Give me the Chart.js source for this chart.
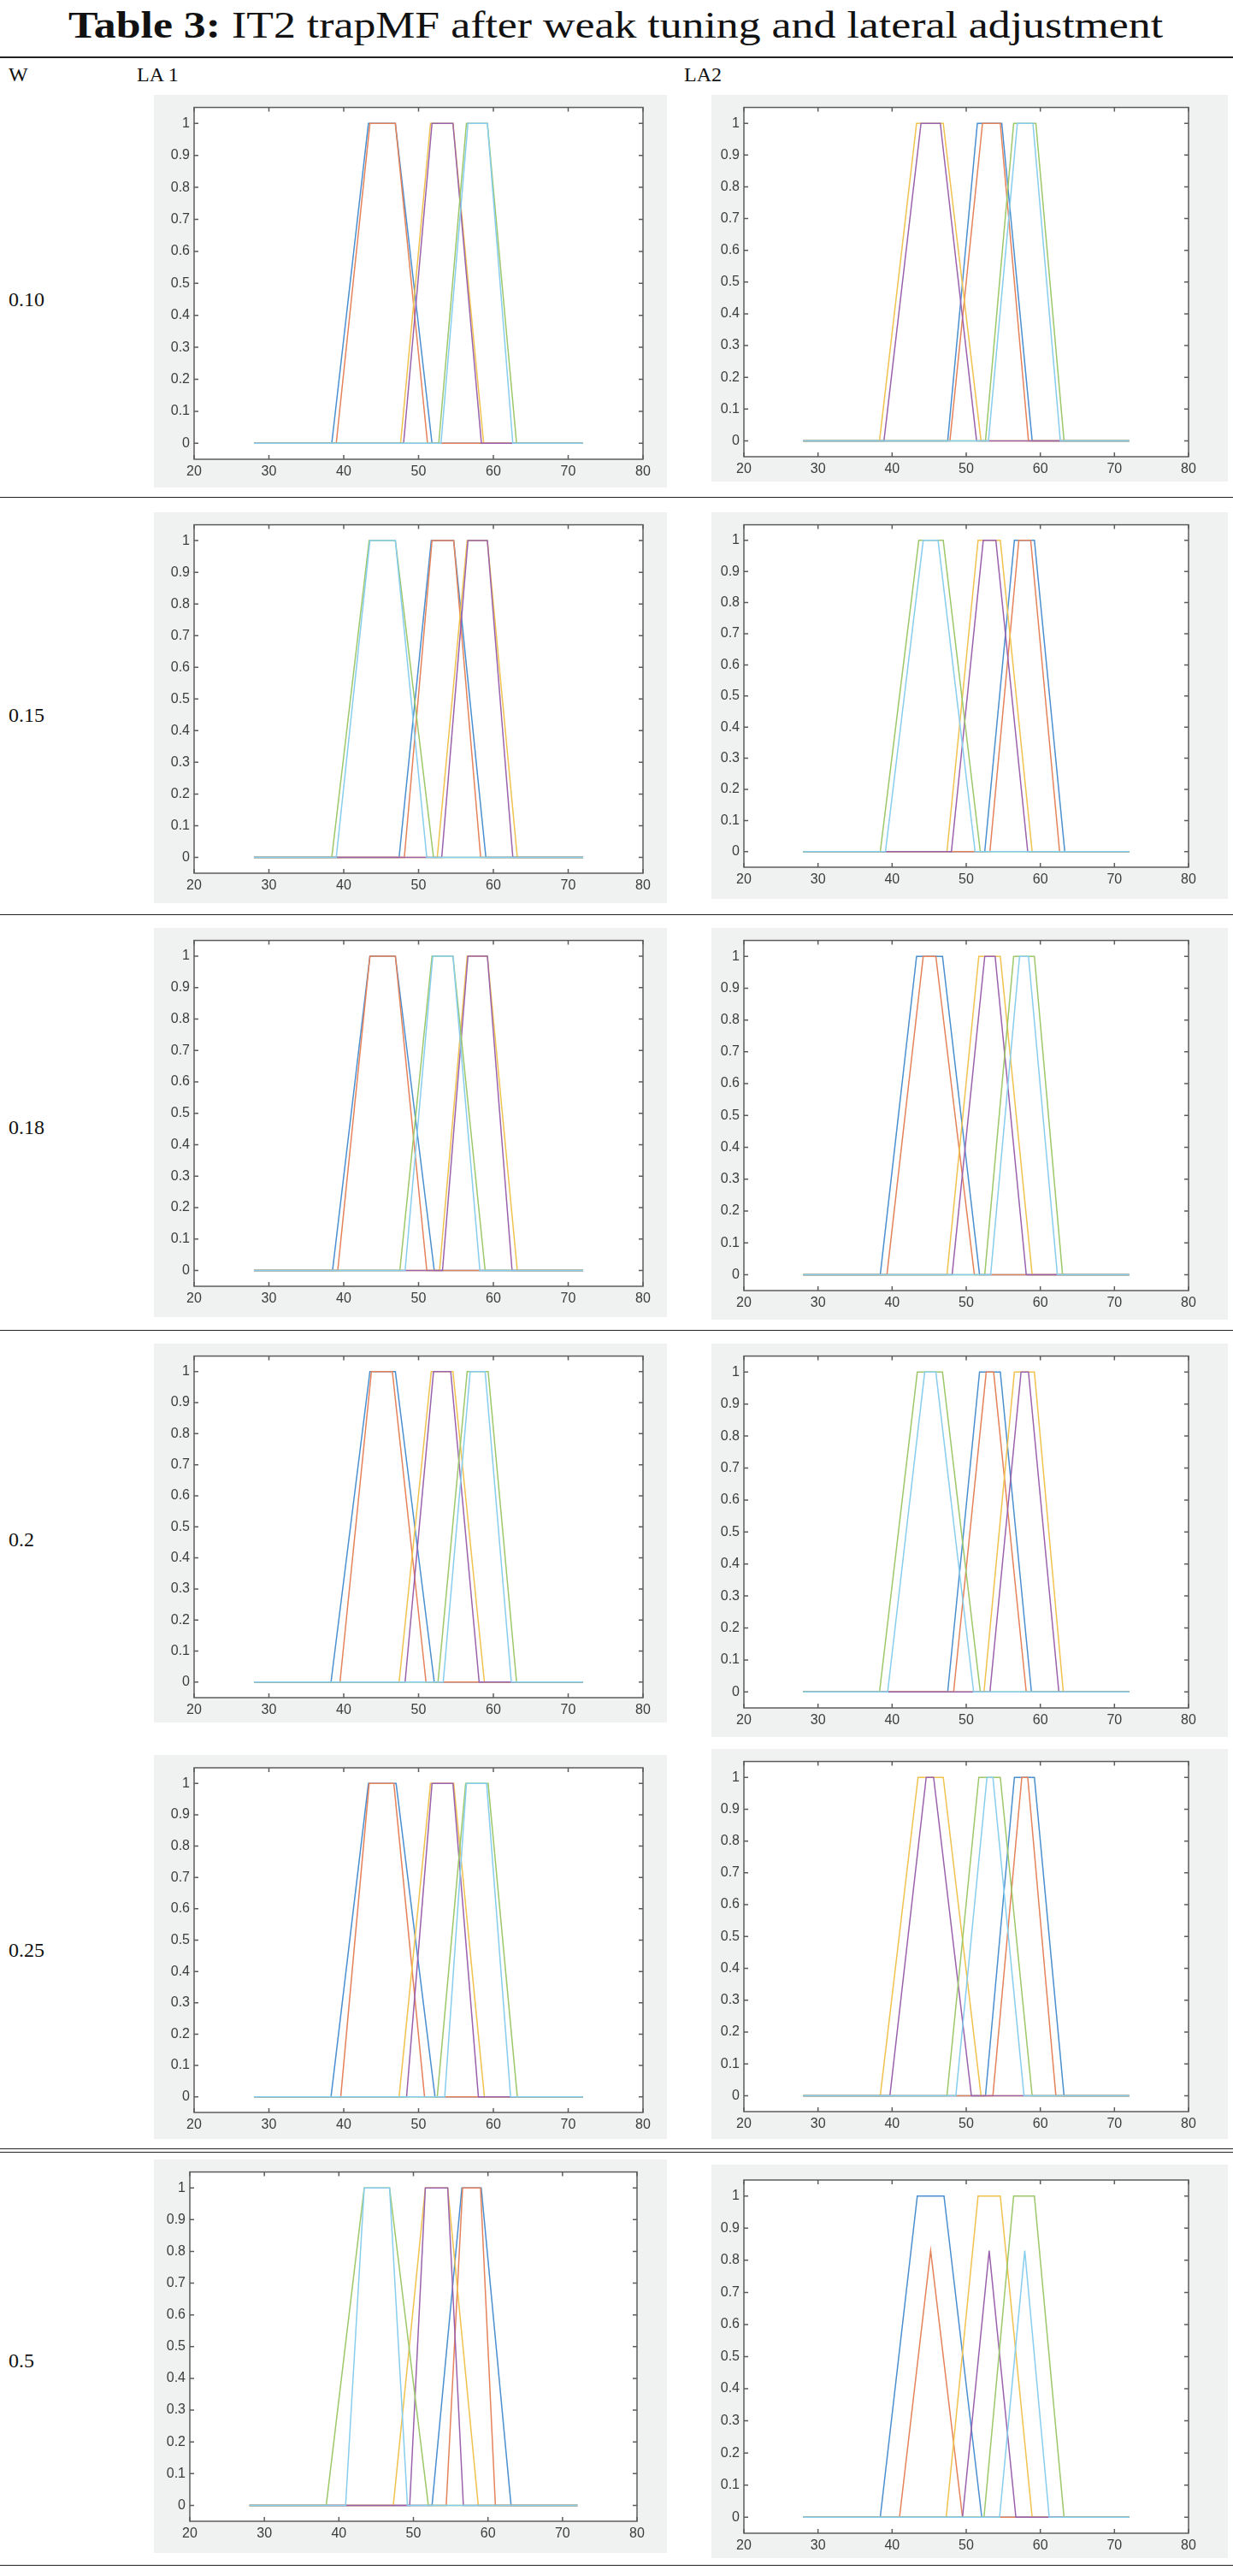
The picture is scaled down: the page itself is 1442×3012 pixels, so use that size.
<!DOCTYPE html>
<html>
<head>
<meta charset="utf-8">
<script src="https://cdn.jsdelivr.net/npm/chart.js@4.4.1/dist/chart.umd.min.js"></script>
<style>
  body { margin: 0; background: #fff; }
  #page { position: relative; width: 1442px; height: 3012px; font-family: "Liberation Serif", "Times New Roman", serif; color: #111; overflow: hidden; }
  #title { position: absolute; left: 80px; top: 8px; font-size: 44px; line-height: 1; white-space: nowrap; transform-origin: 0 0; }
  .rule { position: absolute; left: 0; width: 1442px; background: #222; }
  .cell { position: absolute; font-size: 24px; line-height: 1; }
  .fig { position: absolute; background: #f0f1f1; }
</style>
</head>
<body>
<div id="page">
  <div id="title"><b>Table 3:</b> IT2 trapMF after weak tuning and lateral adjustment</div>
  <div class="rule" style="top:66px;height:2px"></div>
  <div class="cell" style="left:10px;top:75px">W</div>
  <div class="cell" style="left:160px;top:75px">LA 1</div>
  <div class="cell" style="left:800px;top:75px">LA2</div>
  <div class="cell" style="left:10px;top:338px">0.10</div>
  <div class="cell" style="left:10px;top:824px">0.15</div>
  <div class="cell" style="left:10px;top:1306px">0.18</div>
  <div class="cell" style="left:10px;top:1788px">0.2</div>
  <div class="cell" style="left:10px;top:2268px">0.25</div>
  <div class="cell" style="left:10px;top:2748px">0.5</div>
  <div class="rule" style="top:581px;height:1px"></div>
  <div class="rule" style="top:1069px;height:1px"></div>
  <div class="rule" style="top:1555px;height:1px"></div>
  <div class="rule" style="top:2512px;height:1px"></div>
  <div class="rule" style="top:2516px;height:1px"></div>
  <div class="rule" style="top:2999px;height:1px"></div>
</div>

<script>
// universe of discourse and axis ticks
const xSpan = [28, 72];
const xTicks = [20, 30, 40, 50, 60, 70, 80];
const yTicks = [0, 0.1, 0.2, 0.3, 0.4, 0.5, 0.6, 0.7, 0.8, 0.9, 1];

// MATLAB line order: blue, orange, yellow, purple, green, light blue
const lineColors = ['#4a8fd0', '#e5825a', '#f0c24e', '#9a62ad', '#9cc869', '#86cdee'];

// each row: [a, b, c, d, height] of one trapezoid, in the line order above
const la1_w010 = [[38.4,43.3,46.9,51.8,1],[39.0,43.5,46.9,51.2,1],[47.6,51.6,54.6,58.7,1],[48.0,51.8,54.6,58.4,1],[52.7,56.4,59.2,63.1,1],[53.0,56.6,59.2,62.6,1]];
const la2_w010 = [[47.5,51.5,54.8,58.9,1],[47.8,52.2,54.6,58.4,1],[38.3,43.3,46.9,52.0,1],[38.9,43.9,46.5,51.4,1],[52.6,56.4,59.4,63.2,1],[53.0,56.9,59.0,62.7,1]];
const la1_w015 = [[47.4,51.7,54.7,59.0,1],[48.1,51.8,54.7,58.3,1],[52.5,56.5,59.2,63.2,1],[53.1,56.6,59.2,62.6,1],[38.4,43.4,46.9,52.0,1],[39.0,43.5,46.9,51.1,1]];
const la2_w015 = [[52.5,56.5,59.2,63.3,1],[53.2,57.1,58.7,62.6,1],[47.4,51.6,54.6,58.9,1],[48.0,52.3,54.0,58.3,1],[38.4,43.6,46.9,51.9,1],[39.1,44.2,46.2,51.2,1]];
const la1_w018 = [[38.5,43.5,46.9,52.1,1],[39.2,43.5,46.9,51.1,1],[52.8,56.5,59.2,63.2,1],[53.2,56.6,59.2,62.5,1],[47.5,51.8,54.6,58.9,1],[48.2,51.9,54.6,58.2,1]];
const la2_w018 = [[38.4,43.3,46.8,51.8,1],[39.3,44.2,45.9,51.1,1],[47.4,51.7,54.6,58.9,1],[48.1,52.5,53.9,58.1,1],[52.5,56.4,59.2,63.0,1],[53.3,57.2,58.4,62.3,1]];
const la1_w020 = [[38.3,43.5,46.9,52.1,1],[39.5,43.7,46.5,51.0,1],[47.4,51.7,54.6,58.8,1],[48.2,52.0,54.3,58.1,1],[52.6,56.5,59.3,63.1,1],[53.3,56.9,58.9,62.4,1]];
const la2_w020 = [[47.5,51.8,54.6,58.8,1],[48.3,52.7,53.7,58.1,1],[52.4,56.5,59.2,63.1,1],[53.2,57.4,58.4,62.5,1],[38.3,43.4,46.8,51.9,1],[39.4,44.4,45.9,51.0,1]];
const la1_w025 = [[38.3,43.3,47.0,52.2,1],[39.6,43.4,46.7,50.8,1],[47.4,51.6,54.7,58.8,1],[48.4,51.8,54.6,58.0,1],[52.5,56.3,59.3,63.2,1],[53.5,56.4,59.1,62.3,1]];
const la2_w025 = [[52.6,56.5,59.2,63.2,1],[53.6,57.5,58.3,62.1,1],[38.4,43.5,46.9,52.0,1],[39.7,44.6,45.6,50.7,1],[47.4,51.7,54.6,58.9,1],[48.6,52.8,53.6,57.8,1]];
const la1_w050 = [[52.5,56.5,59.1,63.1,1],[54.4,56.6,59.0,61.0,1],[47.3,51.6,54.6,58.7,1],[49.5,51.6,54.6,56.7,1],[38.3,43.4,46.8,52.0,1],[40.9,43.4,46.8,49.2,1]];
const la2_w050 = [[38.4,43.4,47.0,52.1,1],[41.0,45.2,45.2,49.5,0.83],[47.3,51.6,54.6,58.9,1],[49.5,53.1,53.1,56.7,0.83],[52.4,56.4,59.2,63.2,1],[54.5,57.9,57.9,61.2,0.83]];

// figure boxes: gx,gy,gw,gh = grey figure; pl,pt,pr,pb = plot area
const panels = [
  { mfs: la1_w010, gx: 180, gy: 111,  gw: 600, gh: 459, pl: 227, pt: 123,  pr: 752, pb: 537 },
  { mfs: la2_w010, gx: 832, gy: 111,  gw: 604, gh: 452, pl: 870, pt: 123,  pr: 1390, pb: 534 },
  { mfs: la1_w015, gx: 180, gy: 599,  gw: 600, gh: 457, pl: 227, pt: 609,  pr: 752, pb: 1021 },
  { mfs: la2_w015, gx: 832, gy: 599,  gw: 604, gh: 452, pl: 870, pt: 610,  pr: 1390, pb: 1014 },
  { mfs: la1_w018, gx: 180, gy: 1085, gw: 600, gh: 455, pl: 227, pt: 1095, pr: 752, pb: 1504 },
  { mfs: la2_w018, gx: 832, gy: 1085, gw: 604, gh: 458, pl: 870, pt: 1095, pr: 1390, pb: 1509 },
  { mfs: la1_w020, gx: 180, gy: 1571, gw: 600, gh: 443, pl: 227, pt: 1578, pr: 752, pb: 1985 },
  { mfs: la2_w020, gx: 832, gy: 1571, gw: 604, gh: 460, pl: 870, pt: 1580, pr: 1390, pb: 1997 },
  { mfs: la1_w025, gx: 180, gy: 2052, gw: 600, gh: 449, pl: 227, pt: 2067, pr: 752, pb: 2470 },
  { mfs: la2_w025, gx: 832, gy: 2045, gw: 604, gh: 456, pl: 870, pt: 2058, pr: 1390, pb: 2469 },
  { mfs: la1_w050, gx: 180, gy: 2525, gw: 600, gh: 460, pl: 222, pt: 2539, pr: 745, pb: 2948 },
  { mfs: la2_w050, gx: 832, gy: 2531, gw: 604, gh: 460, pl: 870, pt: 2549, pr: 1390, pb: 2962 }
];

// white axes, box and inward ticks like a MATLAB figure
const matlabAxes = {
  id: 'matlabAxes',
  beforeDraw(chart) {
    const { ctx, chartArea: a } = chart;
    ctx.save();
    ctx.fillStyle = '#ffffff';
    ctx.fillRect(a.left, a.top, a.right - a.left, a.bottom - a.top);
    ctx.restore();
  },
  afterDraw(chart) {
    const { ctx, chartArea: a, scales } = chart;
    const len = 5;
    ctx.save();
    ctx.strokeStyle = '#5c5c5c';
    ctx.lineWidth = 1.5;
    ctx.strokeRect(a.left, a.top, a.right - a.left, a.bottom - a.top);
    ctx.beginPath();
    xTicks.forEach(v => {
      const px = scales.x.getPixelForValue(v);
      ctx.moveTo(px, a.bottom); ctx.lineTo(px, a.bottom - len);
      ctx.moveTo(px, a.top); ctx.lineTo(px, a.top + len);
    });
    yTicks.forEach(v => {
      const py = scales.y.getPixelForValue(v);
      ctx.moveTo(a.left, py); ctx.lineTo(a.left + len, py);
      ctx.moveTo(a.right, py); ctx.lineTo(a.right - len, py);
    });
    ctx.stroke();
    ctx.restore();
  }
};

function trapezoid(m) {
  return [
    { x: xSpan[0], y: 0 }, { x: m[0], y: 0 }, { x: m[1], y: m[4] },
    { x: m[2], y: m[4] }, { x: m[3], y: 0 }, { x: xSpan[1], y: 0 }
  ];
}

function makePanel(p, i) {
  const fig = document.createElement('div');
  fig.className = 'fig';
  fig.style.left = p.gx + 'px';
  fig.style.top = p.gy + 'px';
  fig.style.width = p.gw + 'px';
  fig.style.height = p.gh + 'px';
  const cv = document.createElement('canvas');
  cv.id = 'mf' + i;
  cv.width = p.gw;
  cv.height = p.gh;
  fig.appendChild(cv);
  document.getElementById('page').appendChild(fig);

  const tickFont = { family: '"Liberation Sans", Arial, sans-serif', size: 16 };
  new Chart(cv, {
    type: 'scatter',
    data: {
      datasets: p.mfs.map((m, k) => ({
        data: trapezoid(m),
        showLine: true,
        borderColor: lineColors[k],
        borderWidth: 1.5,
        pointRadius: 0,
        tension: 0,
        order: p.mfs.length - k
      }))
    },
    options: {
      responsive: false,
      animation: false,
      layout: { padding: { top: p.pt - p.gy, right: p.gx + p.gw - p.pr, left: 0, bottom: 0 } },
      plugins: { legend: { display: false }, tooltip: { enabled: false } },
      scales: {
        x: {
          type: 'linear', min: 20, max: 80,
          afterBuildTicks: s => { s.ticks = xTicks.map(v => ({ value: v })); },
          afterFit: s => { s.height = p.gy + p.gh - p.pb; },
          ticks: { font: tickFont, color: '#3c3c3c', padding: 5, maxRotation: 0, autoSkip: false },
          grid: { display: false, drawTicks: false, tickLength: 0 },
          border: { display: false }
        },
        y: {
          type: 'linear', min: -0.05, max: 1.05,
          afterBuildTicks: s => { s.ticks = yTicks.map(v => ({ value: v })); },
          afterFit: s => { s.width = p.pl - p.gx; },
          ticks: {
            font: tickFont, color: '#3c3c3c', padding: 5, autoSkip: false,
            callback: v => (v === 0 || v === 1) ? String(v) : v.toFixed(1)
          },
          grid: { display: false, drawTicks: false, tickLength: 0 },
          border: { display: false }
        }
      }
    },
    plugins: [matlabAxes]
  });
}

panels.forEach(makePanel);

// stretch the caption to the width it has in the table
const title = document.getElementById('title');
const targetWidth = 1280;
title.style.transform = 'scaleX(' + (targetWidth / title.offsetWidth) + ')';
</script>
</body>
</html>
